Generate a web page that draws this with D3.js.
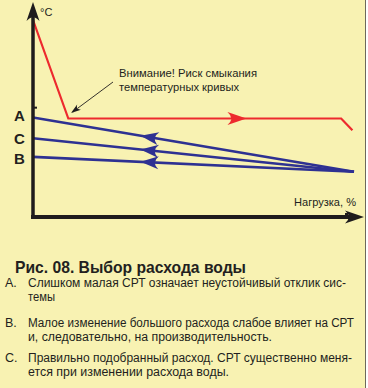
<!DOCTYPE html>
<html lang="ru">
<head>
<meta charset="UTF-8">
<script src="https://d3js.org/d3.v7.min.js"></script>
<title>Выбор расхода воды</title>
<style>
  body { margin: 0; background: #fff; }
  svg text { font-family: "Liberation Sans", Arial, sans-serif; fill: #231f20; }
</style>
</head>
<body>
<div id="chart"></div>
<script>
// red curve: supply temperature vs load
var redLoad = [0, 11, 96, 99.5];
var redTemp = [100, 50, 50, 44];
var redArrowAt = 66.5;

// blue curves: return temperature for three flow rates
var flowNames = ["A", "C", "B"];
var flowStart = [50.5, 40, 30.5];
var flowEnd = [23, 23, 23];
var blueArrowAt = 33.5;

var annotation = ["Внимание! Риск смыкания", "температурных кривых"];
var title = "Рис. 08. Выбор расхода воды";
var notes = [
  ["А.", ["Слишком малая СРТ означает неустойчивый отклик сис-", "темы"]],
  ["В.", ["Малое изменение большого расхода слабое влияет на СРТ", "и, следовательно, на производительность."]],
  ["С.", ["Правильно подобранный расход. СРТ существенно меня-", "ется при изменении расхода воды."]]
];
var noteWidths = [[318, 27], [326, 244], [324, 201]];

var W = 368, H = 388;
var svg = d3.select("#chart").append("svg")
    .attr("width", W).attr("height", H);

svg.append("rect").attr("width", 366).attr("height", H).attr("fill", "#f8f2b2");
svg.append("line").attr("x1", 365.5).attr("x2", 365.5).attr("y1", 0).attr("y2", H)
    .attr("stroke", "#6d6a5a").attr("stroke-width", 1);

var x = d3.scaleLinear().domain([0, 100]).range([33, 354]);
var y = d3.scaleLinear().domain([0, 100]).range([217, 20]);

// concave arrow head, tip at (0,0) pointing along +x
function head(g, px, py, ang, L, w, col) {
  g.append("path")
    .attr("d", "M0,0 L" + (-L) + "," + (-w) + " Q" + (-0.6 * L) + ",0 " + (-L) + "," + w + " Z")
    .attr("fill", col)
    .attr("transform", "translate(" + px + "," + py + ") rotate(" + ang + ")");
}

var line = d3.line().x(function(d) { return x(d[0]); }).y(function(d) { return y(d[1]); });

// blue lines
var blue = "#2e3192";
var labelDy = [-1, 2, 3];
flowNames.forEach(function(n, i) {
  var pts = [[0, flowStart[i]], [100, flowEnd[i]]];
  svg.append("path").attr("d", line(pts)).attr("fill", "none")
      .attr("stroke", blue).attr("stroke-width", 2.6);
  var t = blueArrowAt / 100;
  var vy = flowStart[i] + (flowEnd[i] - flowStart[i]) * t;
  var ang = Math.atan2(y(flowStart[i]) - y(flowEnd[i]), x(0) - x(100)) * 180 / Math.PI;
  head(svg, x(blueArrowAt), y(vy), ang, 18, 6.5, blue);
  svg.append("text").attr("x", 19.5).attr("y", y(flowStart[i]) + 4 + labelDy[i])
      .attr("text-anchor", "middle").attr("font-size", 15).attr("font-weight", "bold")
      .text(n);
});

// red line
var red = "#ed2a2e";
var redPts = redLoad.map(function(v, i) { return [v, redTemp[i]]; });
svg.append("path").attr("d", line(redPts)).attr("fill", "none")
    .attr("stroke", red).attr("stroke-width", 2.2);
head(svg, x(redArrowAt), y(50), 0, 19, 6.5, red);

// axes
var ink = "#1f1c1d";
svg.append("line").attr("x1", 33).attr("x2", 33).attr("y1", 219).attr("y2", 14)
    .attr("stroke", ink).attr("stroke-width", 3.5);
head(svg, 33, 2, -90, 19, 6.5, ink);
svg.append("line").attr("x1", 31).attr("x2", 352).attr("y1", 217).attr("y2", 217)
    .attr("stroke", ink).attr("stroke-width", 4);
head(svg, 364, 217, 0, 19, 6.5, ink);
svg.append("rect").attr("x", 345).attr("y", 213).attr("width", 3).attr("height", 3).attr("fill", ink);
svg.append("line").attr("x1", 33).attr("x2", 37).attr("y1", y(55.5)).attr("y2", y(55.5))
    .attr("stroke", ink).attr("stroke-width", 2);

svg.append("text").attr("x", 40).attr("y", 16).attr("font-size", 11).text("°C");
svg.append("text").attr("x", 356).attr("y", 206).attr("font-size", 11.5)
    .attr("textLength", 62).attr("lengthAdjust", "spacingAndGlyphs")
    .attr("text-anchor", "end").text("Нагрузка, %");

// annotation
annotation.forEach(function(s, i) {
  svg.append("text").attr("x", 119).attr("y", 77 + i * 13.5).attr("font-size", 11.5)
      .attr("textLength", i === 0 ? 138 : 120).attr("lengthAdjust", "spacingAndGlyphs")
      .text(s);
});
svg.append("line").attr("x1", 113).attr("y1", 82).attr("x2", 78).attr("y2", 108)
    .attr("stroke", ink).attr("stroke-width", 0.9);
head(svg, 71, 113, Math.atan2(113 - 82, 71 - 113) * 180 / Math.PI, 10, 3.2, ink);

// caption
svg.append("text").attr("x", 15).attr("y", 273).attr("font-size", 16.5).attr("font-weight", "bold")
    .attr("textLength", 231).attr("lengthAdjust", "spacingAndGlyphs").text(title);

var base = [287, 327, 362];
notes.forEach(function(n, i) {
  svg.append("text").attr("x", 5).attr("y", base[i]).attr("font-size", 12.5).text(n[0]);
  n[1].forEach(function(s, j) {
    svg.append("text").attr("x", 28).attr("y", base[i] + j * 14).attr("font-size", 12)
        .attr("textLength", noteWidths[i][j]).attr("lengthAdjust", "spacingAndGlyphs")
        .text(s);
  });
});
</script>
</body>
</html>
